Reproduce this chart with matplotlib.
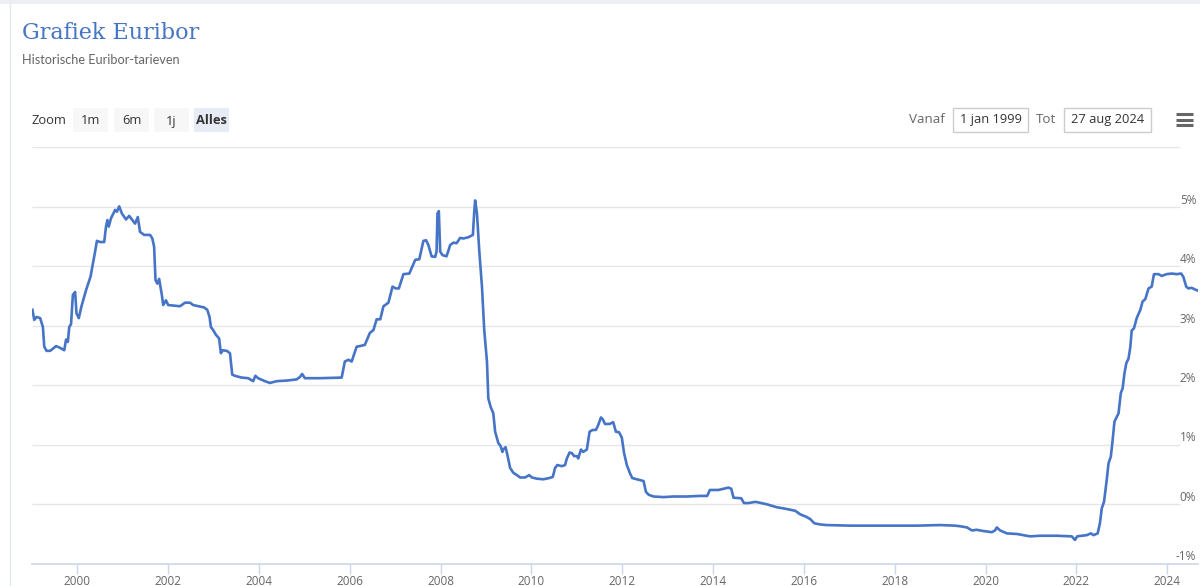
import matplotlib
matplotlib.use("Agg")
import matplotlib.pyplot as plt
from matplotlib.patches import Rectangle
from matplotlib.lines import Line2D

# 3-maands euribor (jaar als decimaal, waarde in %)
years = [1999.01, 1999.05, 1999.10, 1999.18, 1999.24, 1999.27, 1999.32, 1999.40, 1999.53, 1999.62,
         1999.71, 1999.75, 1999.79, 1999.82, 1999.86, 1999.90, 1999.95, 1999.98, 2000.03, 2000.09,
         2000.19, 2000.29, 2000.35, 2000.39, 2000.43, 2000.50, 2000.59, 2000.63, 2000.66, 2000.69,
         2000.74, 2000.83, 2000.87, 2000.92, 2000.98, 2001.07, 2001.14, 2001.20, 2001.27, 2001.33,
         2001.38, 2001.47, 2001.60, 2001.65, 2001.69, 2001.72, 2001.76, 2001.80, 2001.86, 2001.89,
         2001.95, 2002.00, 2002.26, 2002.37, 2002.48, 2002.55, 2002.79, 2002.86, 2002.91, 2002.94,
         2002.99, 2003.05, 2003.12, 2003.16, 2003.20, 2003.29, 2003.36, 2003.41, 2003.47, 2003.62,
         2003.76, 2003.87, 2003.92, 2003.98, 2004.13, 2004.24, 2004.39, 2004.61, 2004.83, 2004.90,
         2004.95, 2005.01, 2005.34, 2005.82, 2005.89, 2005.97, 2006.04, 2006.15, 2006.22, 2006.33,
         2006.44, 2006.52, 2006.59, 2006.67, 2006.74, 2006.85, 2006.94, 2007.01, 2007.08, 2007.18,
         2007.31, 2007.44, 2007.53, 2007.62, 2007.68, 2007.73, 2007.80, 2007.88, 2007.91, 2007.93,
         2007.96, 2007.99, 2008.04, 2008.13, 2008.21, 2008.28, 2008.35, 2008.43, 2008.50, 2008.61,
         2008.71, 2008.74, 2008.76, 2008.80, 2008.85, 2008.91, 2008.96, 2009.02, 2009.05, 2009.10,
         2009.16, 2009.20, 2009.27, 2009.32, 2009.36, 2009.38, 2009.43, 2009.47, 2009.53, 2009.60,
         2009.68, 2009.75, 2009.86, 2009.95, 2010.01, 2010.12, 2010.26, 2010.39, 2010.47, 2010.52,
         2010.57, 2010.67, 2010.74, 2010.78, 2010.84, 2010.89, 2010.94, 2011.00, 2011.03, 2011.09,
         2011.14, 2011.22, 2011.28, 2011.35, 2011.42, 2011.47, 2011.53, 2011.57, 2011.62, 2011.72,
         2011.80, 2011.86, 2011.93, 2011.99, 2012.04, 2012.10, 2012.17, 2012.22, 2012.32, 2012.47,
         2012.52, 2012.58, 2012.69, 2012.91, 2013.13, 2013.42, 2013.71, 2013.87, 2013.93, 2014.12,
         2014.23, 2014.34, 2014.40, 2014.45, 2014.62, 2014.68, 2014.78, 2014.93, 2015.00, 2015.18,
         2015.40, 2015.62, 2015.81, 2015.92, 2016.05, 2016.14, 2016.23, 2016.36, 2016.50, 2017.02,
         2017.75, 2018.49, 2019.00, 2019.33, 2019.44, 2019.59, 2019.70, 2019.81, 2019.95, 2020.14,
         2020.21, 2020.25, 2020.32, 2020.47, 2020.69, 2020.98, 2021.20, 2021.57, 2021.90, 2021.97,
         2022.02, 2022.23, 2022.32, 2022.38, 2022.47, 2022.52, 2022.56, 2022.61, 2022.67, 2022.71,
         2022.76, 2022.80, 2022.84, 2022.89, 2022.93, 2022.98, 2023.02, 2023.06, 2023.10, 2023.15,
         2023.19, 2023.22, 2023.27, 2023.33, 2023.41, 2023.46, 2023.52, 2023.59, 2023.66, 2023.71,
         2023.81, 2023.88, 2023.99, 2024.10, 2024.21, 2024.31, 2024.36, 2024.42, 2024.47, 2024.54,
         2024.62, 2024.69]
rates = [3.27, 3.10, 3.15, 3.13, 2.98, 2.65, 2.58, 2.58, 2.66, 2.63,
         2.59, 2.77, 2.73, 2.98, 3.03, 3.52, 3.57, 3.21, 3.13, 3.33,
         3.60, 3.83, 4.08, 4.25, 4.43, 4.41, 4.41, 4.67, 4.78, 4.67,
         4.81, 4.95, 4.92, 5.01, 4.89, 4.79, 4.85, 4.79, 4.72, 4.83,
         4.58, 4.53, 4.53, 4.47, 4.33, 3.77, 3.71, 3.79, 3.52, 3.35,
         3.43, 3.35, 3.33, 3.39, 3.39, 3.35, 3.31, 3.27, 3.15, 2.98,
         2.93, 2.85, 2.79, 2.54, 2.59, 2.58, 2.54, 2.18, 2.16, 2.13,
         2.12, 2.07, 2.16, 2.12, 2.07, 2.04, 2.07, 2.08, 2.10, 2.14,
         2.19, 2.12, 2.12, 2.13, 2.40, 2.43, 2.40, 2.65, 2.66, 2.68,
         2.88, 2.93, 3.11, 3.11, 3.33, 3.39, 3.66, 3.63, 3.63, 3.87,
         3.88, 4.11, 4.12, 4.43, 4.44, 4.36, 4.17, 4.16, 4.25, 4.89,
         4.93, 4.25, 4.19, 4.17, 4.36, 4.40, 4.39, 4.48, 4.47, 4.49,
         4.53, 4.92, 5.11, 4.89, 4.27, 3.66, 2.93, 2.40, 1.78, 1.64,
         1.53, 1.22, 1.03, 0.98, 0.88, 0.92, 0.96, 0.83, 0.61, 0.53,
         0.49, 0.45, 0.45, 0.49, 0.45, 0.43, 0.42, 0.44, 0.46, 0.61,
         0.66, 0.64, 0.66, 0.77, 0.87, 0.86, 0.81, 0.81, 0.77, 0.92,
         0.88, 0.92, 1.22, 1.25, 1.25, 1.33, 1.46, 1.43, 1.35, 1.35,
         1.38, 1.22, 1.21, 1.12, 0.86, 0.66, 0.52, 0.44, 0.42, 0.39,
         0.21, 0.16, 0.13, 0.12, 0.13, 0.13, 0.14, 0.14, 0.24, 0.24,
         0.26, 0.28, 0.26, 0.11, 0.10, 0.02, 0.02, 0.04, 0.03, 0.00,
         -0.05, -0.08, -0.11, -0.17, -0.21, -0.25, -0.32, -0.34, -0.35, -0.36,
         -0.36, -0.36, -0.35, -0.36, -0.37, -0.39, -0.44, -0.43, -0.45, -0.47,
         -0.44, -0.39, -0.44, -0.49, -0.50, -0.54, -0.53, -0.53, -0.54, -0.60,
         -0.54, -0.52, -0.49, -0.52, -0.49, -0.32, -0.07, 0.04, 0.41, 0.69,
         0.80, 1.08, 1.39, 1.47, 1.53, 1.87, 1.95, 2.20, 2.37, 2.45,
         2.65, 2.92, 2.96, 3.13, 3.27, 3.41, 3.45, 3.63, 3.66, 3.87,
         3.87, 3.84, 3.87, 3.88, 3.87, 3.88, 3.82, 3.66, 3.63, 3.64,
         3.61, 3.59]

x_ticks = [2000, 2002, 2004, 2006, 2008, 2010, 2012, 2014, 2016, 2018, 2020, 2022, 2024]
y_grid = [0, 1, 2, 3, 4, 5, 6]
y_labels = ["-1%", "0%", "1%", "2%", "3%", "4%", "5%"]
y_label_vals = [-1, 0, 1, 2, 3, 4, 5]
zoom_buttons = ["1m", "6m", "1j", "Alles"]
date_from = "1 jan 1999"
date_to = "27 aug 2024"

W, H = 1200, 586
blue = "#4674c6"

def fx(px):
    return px / W

def fy(py):
    return 1 - py / H

fig = plt.figure(figsize=(12, 5.86), dpi=100)

# kaartrand
fig.add_artist(Rectangle((0, fy(4)), 1, 4 / H, transform=fig.transFigure, color="#eceef1", lw=0))
fig.add_artist(Line2D([fx(9.5), fx(9.5)], [0, fy(4)], transform=fig.transFigure, color="#e3e6ea", lw=1))

ax = fig.add_axes([fx(32), fy(563.7), (1198 - 32) / W, (563.7 - 147.5) / H])
ax.set_xlim(1999.0, 2024.68)
ax.set_ylim(-1, 6)

ax.hlines(y_grid, 1999.0, 2024.28, color="#e6e6e6", lw=1, zorder=1)
ax.plot(years, rates, color=blue, lw=1.9, zorder=3, solid_joinstyle="round")

for s in ["top", "left", "right"]:
    ax.spines[s].set_visible(False)
ax.spines["bottom"].set_color("#ccd6eb")
ax.spines["bottom"].set_linewidth(1.2)
ax.set_yticks([])
ax.set_xticks(x_ticks)
ax.set_xticklabels([str(t) for t in x_ticks])
ax.tick_params(axis="x", length=7, width=1, color="#ccd6eb", colors="#666666",
               labelsize=8.5, pad=1)
for lab in ax.get_xticklabels():
    lab.set_color("#666666")
    lab.set_fontfamily("Open Sans")

for v, t in zip(y_label_vals, y_labels):
    ax.text(0.9985, v + 0.115, t, transform=ax.get_yaxis_transform(), ha="right", va="center",
            fontsize=8.5, color="#666666", family="Open Sans")

# titel
fig.text(fx(22), fy(33), "Grafiek Euribor", fontsize=16, color=blue, family="DejaVu Serif",
         ha="left", va="center")
fig.text(fx(22), fy(60), "Historische Euribor-tarieven", fontsize=9.2, color="#666666",
         family="Lato", ha="left", va="center")

# zoom knoppen
fig.text(fx(32), fy(121), "Zoom", fontsize=9.3, color="#333333", family="Open Sans",
         ha="left", va="center")
btn_x = [73, 114, 154, 194]
for i, b in enumerate(zoom_buttons):
    sel = b == "Alles"
    fig.add_artist(Rectangle((fx(btn_x[i]), fy(132)), 35 / W, 24 / H, transform=fig.transFigure,
                             facecolor="#e6ebf5" if sel else "#f7f7f7", edgecolor="none"))
    fig.text(fx(btn_x[i] + 17.5), fy(121), b, fontsize=9.3, color="#333333", family="Open Sans",
             weight="bold" if sel else "normal", ha="center", va="center")

# datum invoer
fig.text(fx(945), fy(120), "Vanaf", fontsize=9.6, color="#666666", family="Open Sans",
         ha="right", va="center")
fig.add_artist(Rectangle((fx(953), fy(132)), 75 / W, 24 / H, transform=fig.transFigure,
                         facecolor="white", edgecolor="#cccccc", lw=1))
fig.text(fx(990.5), fy(120), date_from, fontsize=9.3, color="#333333", family="Open Sans",
         ha="center", va="center")
fig.text(fx(1036), fy(120), "Tot", fontsize=9.6, color="#666666", family="Open Sans",
         ha="left", va="center")
fig.add_artist(Rectangle((fx(1064), fy(132)), 87 / W, 24 / H, transform=fig.transFigure,
                         facecolor="white", edgecolor="#cccccc", lw=1))
fig.text(fx(1107.5), fy(120), date_to, fontsize=9.3, color="#333333", family="Open Sans",
         ha="center", va="center")

# menu icoon
for yy in [114, 119.5, 125]:
    fig.add_artist(Line2D([fx(1176), fx(1193)], [fy(yy), fy(yy)], transform=fig.transFigure,
                          color="#666666", lw=2.2, solid_capstyle="butt"))

fig.savefig("out.png", dpi=100)
